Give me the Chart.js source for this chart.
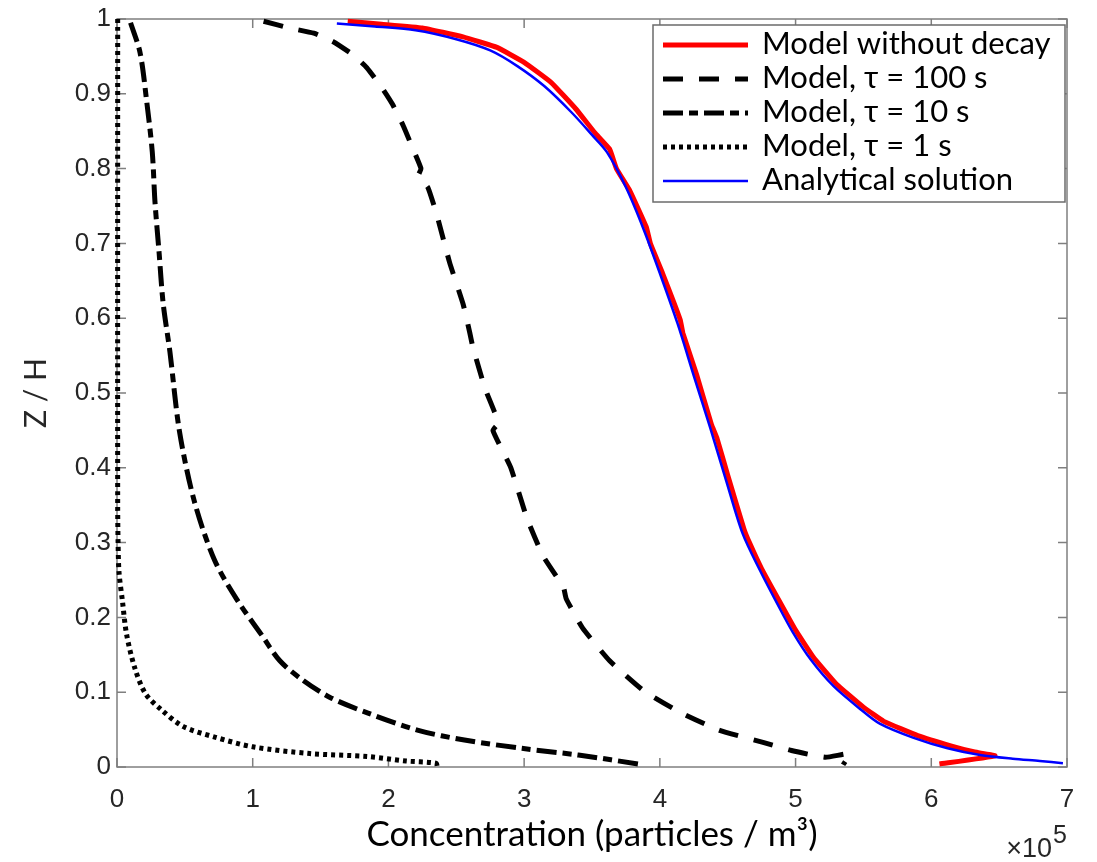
<!DOCTYPE html>
<html>
<head>
<meta charset="utf-8">
<title>Concentration profiles</title>
<script src="https://cdn.jsdelivr.net/npm/chart.js@4.4.1/dist/chart.umd.min.js"></script>
<style>
	html, body { margin: 0; padding: 0; background: #ffffff; }
	canvas { display: block; }
</style>
</head>
<body>
<canvas id="chart" width="1097" height="862"></canvas>
<script>
// concentration is in units of 1e5 particles / m3, height is Z / H
const xTicks = [0, 1, 2, 3, 4, 5, 6, 7];
const xTickLabels = ["0", "1", "2", "3", "4", "5", "6", "7"];
const yTicks = [0, 0.1, 0.2, 0.3, 0.4, 0.5, 0.6, 0.7, 0.8, 0.9, 1];
const yTickLabels = ["0", "0.1", "0.2", "0.3", "0.4", "0.5", "0.6", "0.7", "0.8", "0.9", "1"];

const seriesLabels = [
	"Model without decay",
	"Model, \u03c4 = 100 s",
	"Model, \u03c4 = 10 s",
	"Model, \u03c4 = 1 s",
	"Analytical solution"
];

const noDecayX = [1.70, 1.95, 2.25, 2.55, 2.80, 3.00, 3.20, 3.38, 3.52, 3.63, 3.68, 3.78, 3.90, 3.93, 4.02, 4.15, 4.17, 4.27, 4.38, 4.42, 4.50, 4.62, 4.66, 4.75, 4.88, 5.00, 5.13, 5.30, 5.50, 5.65, 5.90, 6.15, 6.32, 6.47, 6.06];
const noDecayZ = [0.997, 0.993, 0.988, 0.976, 0.962, 0.942, 0.915, 0.880, 0.848, 0.826, 0.800, 0.770, 0.722, 0.700, 0.660, 0.598, 0.580, 0.525, 0.458, 0.440, 0.390, 0.318, 0.300, 0.265, 0.222, 0.183, 0.147, 0.111, 0.080, 0.061, 0.042, 0.028, 0.020, 0.015, 0.004];

const tau100X = [1.08, 1.27, 1.45, 1.59, 1.74, 1.84, 1.96, 2.03, 2.11, 2.17, 2.24, 2.22, 2.29, 2.36, 2.45, 2.55, 2.60, 2.62, 2.71, 2.81, 2.77, 2.90, 3.02, 3.14, 3.29, 3.31, 3.43, 3.63, 3.88, 4.16, 4.44, 4.76, 4.97, 5.22, 5.40, 5.35];
const tau100Z = [0.997, 0.988, 0.981, 0.970, 0.952, 0.935, 0.906, 0.886, 0.857, 0.831, 0.800, 0.790, 0.775, 0.736, 0.675, 0.619, 0.580, 0.563, 0.507, 0.460, 0.450, 0.401, 0.333, 0.282, 0.240, 0.225, 0.186, 0.142, 0.102, 0.072, 0.049, 0.033, 0.022, 0.013, 0.018, 0.003];

const tau10X = [0.10, 0.17, 0.22, 0.26, 0.28, 0.31, 0.34, 0.39, 0.46, 0.57, 0.72, 0.89, 1.06, 1.20, 1.37, 1.57, 1.85, 2.22, 2.56, 2.98, 3.40, 3.88];
const tau10Z = [0.995, 0.955, 0.888, 0.822, 0.755, 0.688, 0.620, 0.555, 0.449, 0.355, 0.276, 0.222, 0.178, 0.142, 0.116, 0.093, 0.072, 0.049, 0.036, 0.025, 0.016, 0.003];

const tau1X = [0.005, 0.005, 0.008, 0.015, 0.04, 0.07, 0.13, 0.21, 0.33, 0.49, 0.72, 1.00, 1.42, 1.85, 2.13, 2.35, 2.36];
const tau1Z = [1.000, 0.350, 0.300, 0.260, 0.222, 0.178, 0.133, 0.098, 0.076, 0.054, 0.040, 0.027, 0.018, 0.014, 0.008, 0.005, 0.000];

const analyticX = [1.62, 1.90, 2.20, 2.50, 2.75, 2.95, 3.15, 3.35, 3.50, 3.61, 3.75, 3.88, 4.00, 4.13, 4.25, 4.37, 4.49, 4.61, 4.74, 4.86, 4.98, 5.11, 5.28, 5.48, 5.62, 5.87, 6.12, 6.36, 6.60, 6.80, 6.97];
const analyticZ = [0.994, 0.990, 0.985, 0.973, 0.958, 0.937, 0.910, 0.875, 0.845, 0.822, 0.775, 0.719, 0.660, 0.593, 0.523, 0.454, 0.382, 0.312, 0.262, 0.220, 0.180, 0.144, 0.108, 0.077, 0.058, 0.039, 0.025, 0.016, 0.011, 0.008, 0.005];

const axisColor = "#7f7f7f";
const textColor = "#262626";
const tickSize = 9;

function points(xs, ys) {
	return xs.map((x, i) => ({ x: x, y: ys[i] }));
}

function series(index, xs, ys, color, width, dash, tension, order) {
	return {
		label: seriesLabels[index],
		data: points(xs, ys),
		showLine: true,
		borderColor: color,
		backgroundColor: color,
		borderWidth: width,
		borderDash: dash,
		borderCapStyle: "butt",
		borderJoinStyle: "round",
		pointRadius: 0,
		pointHoverRadius: 0,
		tension: tension,
		clip: 6,
		order: order
	};
}

const datasets = [
	series(0, noDecayX, noDecayZ, "#ff0000", 5, [], 0.1, 5),
	series(1, tau100X, tau100Z, "#000000", 5, [20, 16], 0.15, 4),
	series(2, tau10X, tau10Z, "#000000", 5, [20, 6, 9, 6], 0.3, 3),
	series(3, tau1X, tau1Z, "#000000", 5, [4, 4], 0.3, 2),
	series(4, analyticX, analyticZ, "#0000ff", 2.5, [], 0.3, 1)
];

// box, inward ticks, legend and the x10^5 factor, drawn the way the original figure has them
const framePlugin = {
	id: "frame",
	beforeDatasetsDraw(chart) {
		const { ctx, chartArea: area, scales } = chart;
		ctx.save();
		ctx.strokeStyle = axisColor;
		ctx.lineWidth = 1.5;
		ctx.beginPath();
		for (const tick of scales.x.ticks) {
			const px = scales.x.getPixelForValue(tick.value);
			ctx.moveTo(px, area.bottom);
			ctx.lineTo(px, area.bottom - tickSize);
			ctx.moveTo(px, area.top);
			ctx.lineTo(px, area.top + tickSize);
		}
		for (const tick of scales.y.ticks) {
			const py = scales.y.getPixelForValue(tick.value);
			ctx.moveTo(area.left, py);
			ctx.lineTo(area.left + tickSize, py);
			ctx.moveTo(area.right, py);
			ctx.lineTo(area.right - tickSize, py);
		}
		ctx.stroke();
		ctx.strokeRect(area.left, area.top, area.width, area.height);
		ctx.restore();
	},
	afterDraw(chart) {
		const { ctx, chartArea: area } = chart;
		ctx.save();
		// legend
		const boxRight = area.right - 2;
		const boxTop = area.top + 6;
		const boxWidth = 412;
		const rowHeight = 34;
		const boxHeight = 177;
		const boxLeft = boxRight - boxWidth;
		ctx.fillStyle = "#ffffff";
		ctx.fillRect(boxLeft, boxTop, boxWidth, boxHeight);
		ctx.strokeStyle = "#6b6b6b";
		ctx.lineWidth = 1.5;
		ctx.strokeRect(boxLeft, boxTop, boxWidth, boxHeight);
		ctx.font = "31px Lato";
		ctx.textBaseline = "middle";
		ctx.textAlign = "left";
		chart.data.datasets.forEach((ds, i) => {
			const y = boxTop + 20 + i * rowHeight;
			ctx.save();
			ctx.strokeStyle = ds.borderColor;
			ctx.lineWidth = ds.borderWidth;
			ctx.lineCap = "butt";
			ctx.setLineDash(ds.borderDash);
			ctx.beginPath();
			ctx.moveTo(boxLeft + 10, y);
			ctx.lineTo(boxLeft + 95, y);
			ctx.stroke();
			ctx.restore();
			ctx.fillStyle = "#000000";
			ctx.fillText(ds.label, boxLeft + 109, y - 1);
		});
		// exponent of the x axis
		ctx.fillStyle = textColor;
		ctx.textBaseline = "alphabetic";
		ctx.textAlign = "right";
		ctx.font = "25px 'Liberation Sans'";
		ctx.fillText("5", area.right, 843);
		ctx.font = "27px 'Liberation Sans'";
		ctx.fillText("\u00d710", area.right - 15, 857);
		ctx.restore();
	}
};

const config = {
	type: "scatter",
	data: { datasets: datasets },
	options: {
		responsive: false,
		animation: false,
		layout: {
			padding: { left: 0, top: 14, right: 30, bottom: 0 }
		},
		plugins: {
			legend: { display: false },
			tooltip: { enabled: false }
		},
		scales: {
			x: {
				type: "linear",
				min: 0,
				max: 7,
				afterBuildTicks: scale => {
					scale.ticks = xTicks.map(v => ({ value: v }));
				},
				afterFit: scale => {
					scale.height = 95;
				},
				grid: { display: false, drawTicks: false },
				border: { display: false },
				ticks: {
					color: textColor,
					font: { family: "'Liberation Sans', Arial, sans-serif", size: 26, lineHeight: 1 },
					padding: 20,
					maxRotation: 0,
					callback: (value, index) => xTickLabels[index]
				},
				title: {
					display: true,
					text: "Concentration (particles / m\u00b3)",
					color: "#000000",
					font: { family: "Lato", size: 35 },
					padding: { top: 0, bottom: 6 }
				}
			},
			y: {
				type: "linear",
				min: 0,
				max: 1,
				afterBuildTicks: scale => {
					scale.ticks = yTicks.map(v => ({ value: v }));
				},
				afterFit: scale => {
					scale.width = 117;
				},
				grid: { display: false, drawTicks: false },
				border: { display: false },
				ticks: {
					color: textColor,
					font: { family: "'Liberation Sans', Arial, sans-serif", size: 26, lineHeight: 1 },
					padding: 6,
					callback: (value, index) => yTickLabels[index]
				},
				title: {
					display: true,
					text: "Z / H",
					color: textColor,
					font: { family: "Lato", size: 30 },
					padding: { top: 18, bottom: 0 }
				}
			}
		}
	},
	plugins: [framePlugin]
};

new Chart(document.getElementById("chart"), config);
</script>
</body>
</html>
